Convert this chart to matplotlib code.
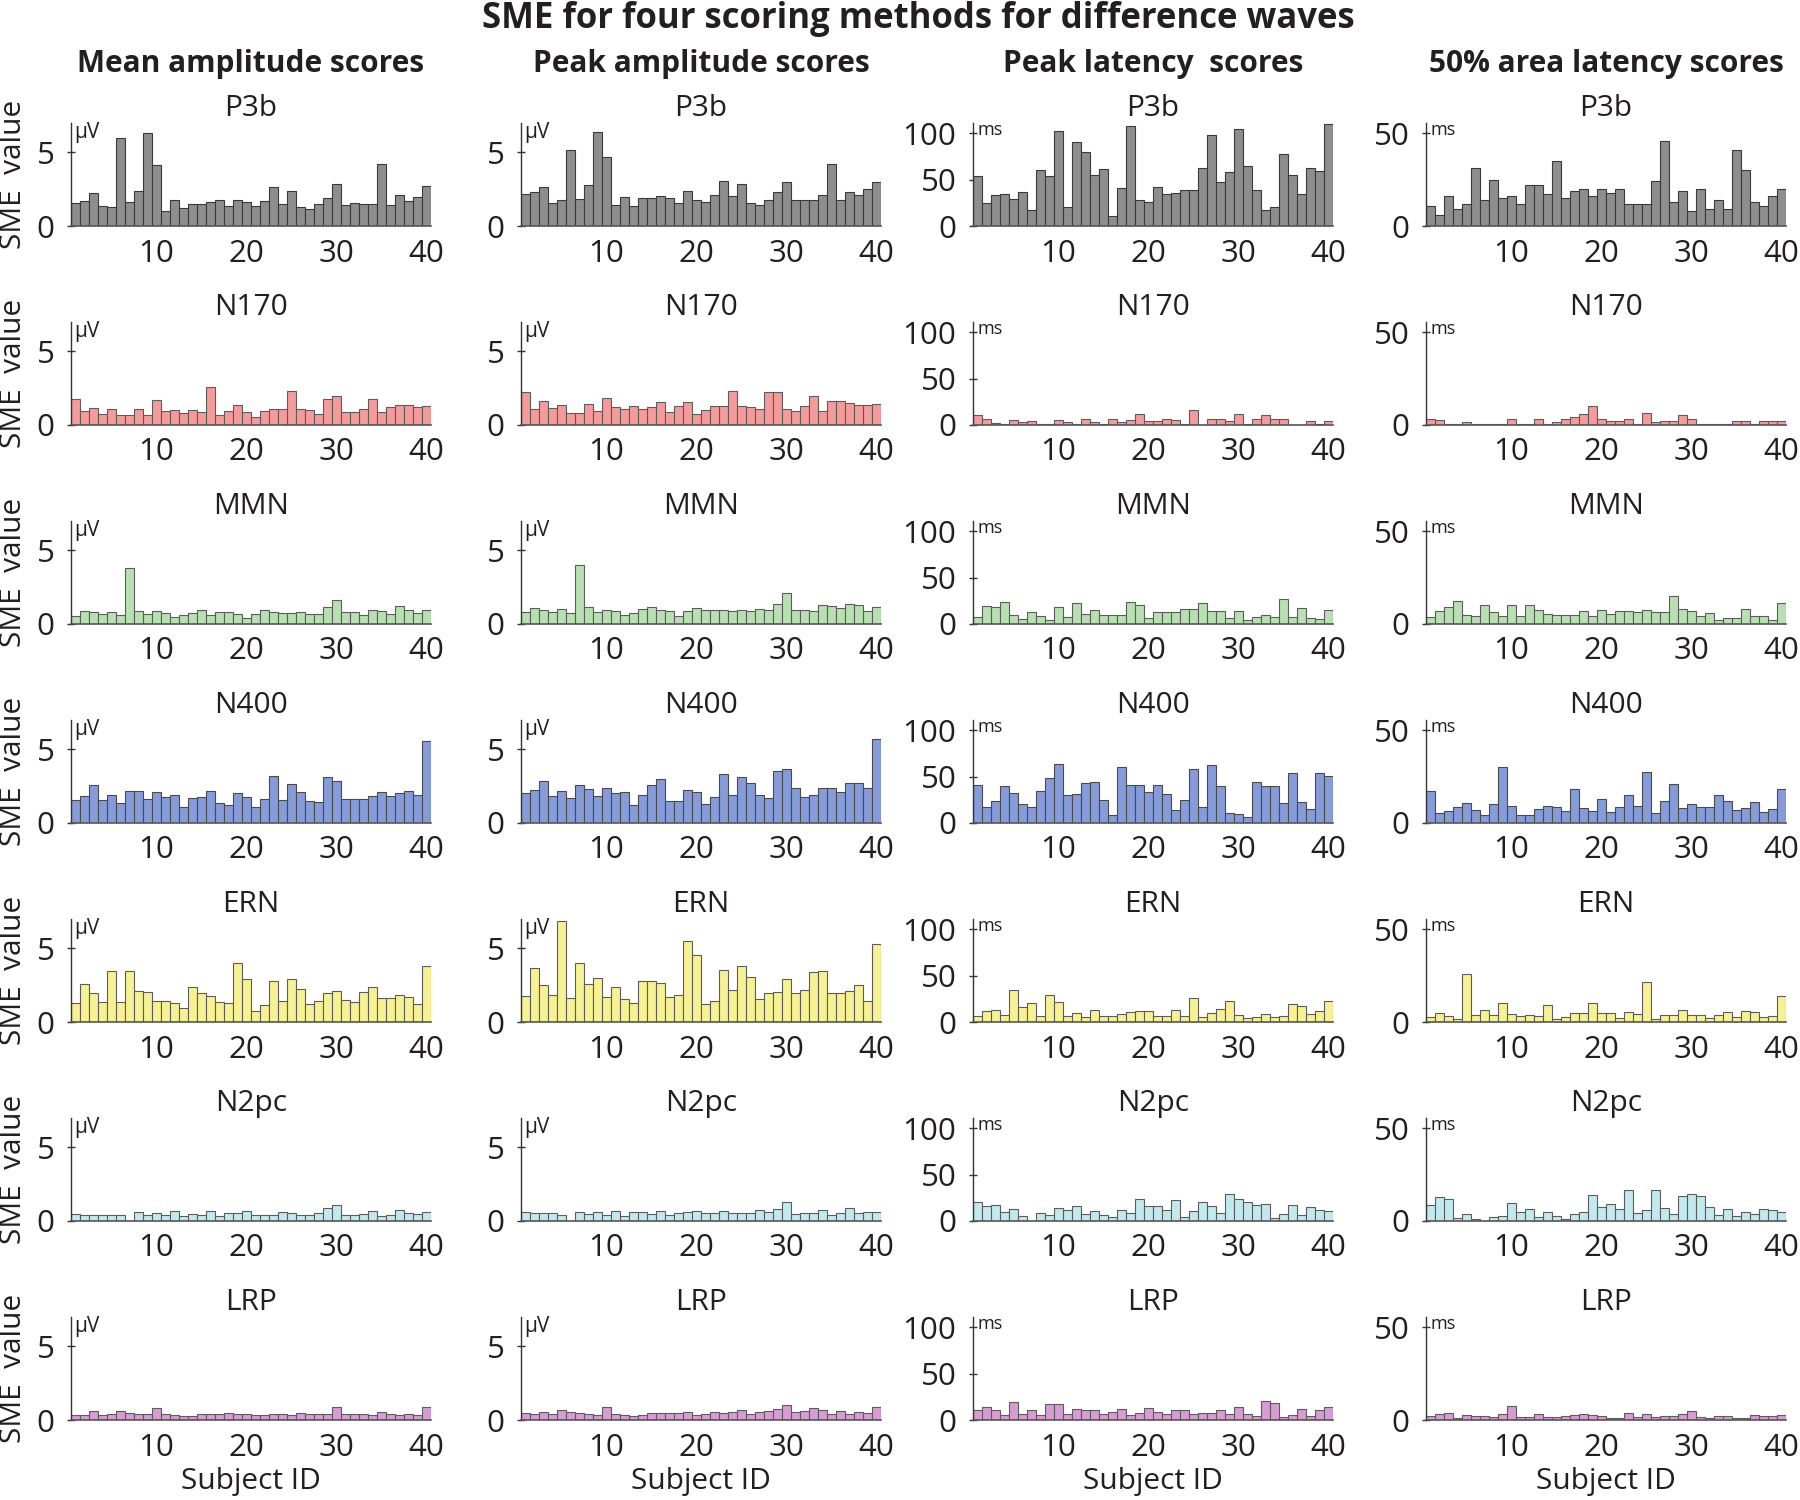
import matplotlib
matplotlib.use('Agg')
import matplotlib.pyplot as plt
import numpy as np

# ---------------- data ----------------
subjects = list(range(1, 41))
components = ['P3b', 'N170', 'MMN', 'N400', 'ERN', 'N2pc', 'LRP']
column_titles = ['Mean amplitude scores', 'Peak amplitude scores',
                 'Peak latency  scores', '50% area latency scores']

# Mean amplitude (µV)
mean_p3b = [1.54,1.73,2.26,1.34,1.27,5.97,1.64,2.37,6.29,4.17,1.01,1.75,1.20,1.50,1.50,1.61,1.75,1.36,1.80,1.66,
            1.36,1.73,2.63,1.50,2.40,1.31,1.13,1.50,1.91,2.88,1.45,1.57,1.50,1.52,4.24,1.41,2.14,1.73,1.96,2.70]
mean_n170 = [1.77,0.94,1.15,0.73,1.12,0.71,0.71,1.12,0.71,1.70,0.92,1.03,0.83,1.01,0.85,2.57,0.71,0.94,1.33,0.85,
             0.55,0.92,1.12,1.12,2.34,1.08,1.03,0.76,1.79,1.95,0.89,0.89,1.08,1.77,0.85,1.22,1.35,1.35,1.19,1.31]
mean_mmn = [0.55,0.91,0.80,0.71,0.82,0.64,3.79,0.91,0.66,0.87,0.75,0.48,0.59,0.73,0.96,0.64,0.84,0.84,0.68,0.41,
            0.71,0.98,0.82,0.75,0.78,0.80,0.68,0.70,1.16,1.62,0.80,0.82,0.62,0.98,0.87,0.71,1.21,0.94,0.75,0.98]
mean_n400 = [1.54,1.85,2.59,1.54,1.89,1.38,2.15,2.15,1.61,2.13,1.75,1.87,1.12,1.71,1.75,2.20,1.38,1.19,2.06,1.78,
             1.12,1.61,3.20,1.54,2.64,2.10,1.47,1.45,3.13,2.87,1.64,1.64,1.66,1.85,2.08,1.82,2.06,2.15,1.87,5.56]
mean_ern = [1.27,2.60,2.00,1.34,3.50,1.38,3.46,2.12,2.03,1.41,1.45,1.27,0.94,2.37,1.98,1.75,1.38,1.31,3.99,2.93,
            0.74,1.15,2.81,1.43,2.93,2.21,1.24,1.41,1.98,2.14,1.50,1.36,2.05,2.40,1.61,1.61,1.84,1.68,1.20,3.82]
mean_n2pc = [0.46,0.39,0.44,0.39,0.39,0.39,0.03,0.58,0.41,0.53,0.44,0.67,0.32,0.46,0.41,0.69,0.32,0.51,0.55,0.71,
             0.41,0.41,0.41,0.58,0.51,0.41,0.44,0.55,0.85,1.10,0.41,0.44,0.46,0.67,0.32,0.44,0.74,0.51,0.48,0.60]
mean_lrp = [0.34,0.34,0.62,0.32,0.39,0.60,0.46,0.39,0.39,0.80,0.39,0.34,0.25,0.28,0.41,0.41,0.39,0.46,0.39,0.41,
            0.32,0.34,0.39,0.41,0.37,0.46,0.44,0.39,0.41,0.85,0.39,0.39,0.44,0.34,0.51,0.39,0.34,0.41,0.34,0.85]

# Peak amplitude (µV)
peak_p3b = [2.17,2.30,2.65,1.54,1.77,5.14,1.84,2.79,6.38,4.68,1.41,2.00,1.34,1.89,1.87,2.03,1.87,1.54,2.40,1.75,
            1.61,2.10,3.04,2.07,2.86,1.57,1.41,1.77,2.30,3.00,1.75,1.77,1.77,2.12,4.24,1.80,2.33,2.14,2.49,3.02]
peak_n170 = [2.22,1.12,1.61,1.17,1.35,0.80,0.80,1.42,0.94,1.81,1.22,1.10,1.26,1.08,1.22,1.54,0.89,1.26,1.56,0.76,
             1.03,1.31,1.31,2.34,1.26,1.22,1.08,2.22,2.22,1.06,0.94,1.26,1.97,0.94,1.61,1.61,1.49,1.38,1.33,1.45]
peak_mmn = [0.80,1.12,0.98,0.80,1.05,0.75,4.04,1.16,0.82,0.98,0.87,0.59,0.75,1.05,1.16,0.98,0.91,0.55,0.87,1.12,
            0.96,0.96,0.94,0.91,0.95,0.90,1.05,0.95,1.39,2.10,0.95,0.92,0.90,1.26,1.21,1.10,1.39,1.26,0.85,1.15]
peak_n400 = [2.06,2.22,2.85,1.82,2.17,1.73,2.57,2.31,1.82,2.38,2.01,2.10,1.19,1.87,2.55,3.01,1.52,1.50,2.24,2.08,
             1.31,1.75,3.34,1.87,3.13,2.73,1.87,1.68,3.55,3.64,2.36,1.75,1.92,2.38,2.38,2.10,2.69,2.69,2.38,5.72]
peak_ern = [1.77,3.64,2.53,1.84,6.87,1.61,4.01,2.56,2.97,1.73,2.37,1.59,1.31,2.79,2.76,2.63,1.73,1.84,5.51,4.54,
            1.22,1.43,3.55,2.17,3.80,3.09,1.59,1.96,2.07,2.90,1.98,2.17,3.43,3.46,2.00,2.00,2.12,2.49,1.41,5.28]
peak_n2pc = [0.60,0.55,0.55,0.51,0.44,0.03,0.58,0.48,0.60,0.44,0.71,0.37,0.62,0.62,0.46,0.69,0.39,0.53,0.58,0.67,
             0.51,0.51,0.69,0.51,0.51,0.55,0.74,0.60,0.80,1.27,0.46,0.51,0.55,0.74,0.39,0.55,0.88,0.55,0.62,0.62]
peak_lrp = [0.48,0.41,0.55,0.44,0.69,0.55,0.48,0.41,0.37,0.90,0.41,0.32,0.30,0.37,0.46,0.46,0.50,0.46,0.55,0.37,
            0.41,0.51,0.46,0.55,0.69,0.44,0.51,0.62,0.74,1.00,0.51,0.60,0.80,0.69,0.44,0.60,0.44,0.51,0.50,0.90]

# Peak latency (ms)
peaklat_p3b = [54,25,33,34,29,37,17,60,54,102,20,90,80,55,61,11,41,108,28,26,
               42,34,36,39,39,62,98,47,58,104,65,39,17,21,78,55,34,63,59,110]
peaklat_n170 = [11,6,2,1.5,5,3,4,1,1,5,3,1,7,3,1,6,3,5,12,4,
                4,6,5,1,16,0.5,6,6,4,12,1,6,11,6,6,0.5,0.5,4,1,4]
peaklat_mmn = [8,19,18,24,10,5,13,9,4,18,8,23,11,15,10,10,10,24,21,6,
               13,13,13,16,16,23,14,14,6,14,4,8,10,8,27,8,17,6,5,15]
peaklat_n400 = [41,17,24,40,32,21,17,35,49,64,30,31,43,44,25,9,60,41,41,33,
                41,31,14,25,58,17,63,40,11,10,6,44,40,40,22,54,23,15,54,51]
peaklat_ern = [7,12,13,8,34,16,21,7,29,22,7,10,5,13,6,7,9,11,12,12,
               6,6,13,7,26,5,10,14,23,8,4,5,9,5,6,19,17,9,12,23]
peaklat_n2pc = [21,16,17,10,13,5,0,9,7,14,12,16,8,11,7,4,12,9,24,16,
                16,12,23,4,11,21,16,9,29,24,20,17,18,3,8,17,6,15,12,11]
peaklat_lrp = [11,14,11,5,19,7,11,5,17,17,7,12,11,11,7,9,12,5,8,13,
               9,7,11,11,6,8,8,11,7,14,7,4,20,18,3,5,12,4,11,14]

# 50% area latency (ms)
area_p3b = [11,6,16,9,12,31,14,25,15,16,12,22,22,17,35,15,19,20,16,20,
            18,20,12,12,12,24,46,13,19,8,20,9,14,9,41,30,13,11,16,20]
area_n170 = [3.4,2.5,0.7,0.7,1.6,0.7,0.7,0.7,0.7,3.0,0.7,0.7,3.4,0.7,1.6,3.0,4.3,6.0,10.0,3.0,
             2.0,2.0,3.0,0.7,6.3,1.6,2.0,2.0,5.2,3.4,0.7,0.7,0.7,0.3,2.3,2.0,0.7,2.2,2.0,2.0]
area_mmn = [3.6,7.2,9.2,12.2,4.9,4.5,10.4,6.3,4.1,10.4,4.3,10.0,7.4,5.4,4.9,4.9,5.0,7.2,4.1,7.7,
            5.2,7.2,6.8,6.3,7.7,6.7,6.3,15.0,7.9,7.2,4.1,5.9,2.0,3.4,3.2,8.1,4.5,4.5,2.3,11.2]
area_n400 = [17,5.2,6.3,8.5,10.6,7,4.1,10.4,30.4,9.4,4.5,4.5,7.6,9.2,8.5,6.5,18.3,8.1,6.3,13.1,
             6.1,8.6,15.3,9.4,27.3,5.6,11.9,21.2,8.1,10.1,8.6,8.5,15.3,12,7,8.1,11.3,6.1,7.4,18.3]
area_ern = [2.5,4.7,3.2,1.8,26,3.6,6.5,3.8,10.3,4.3,3.4,3.8,3.1,9,1.6,2.7,4.9,4.9,10.1,5,
            5,2,5.4,4.3,21.4,1.8,3.6,3.6,6.3,4,3.6,2.3,4,5.2,2.7,5.8,5.4,2.9,3.4,14]
area_n2pc = [8.5,12.7,11.6,1.8,4,1.3,0,2.2,2.9,9.5,5,6.7,2.2,4.7,2.5,1.3,4,5,13.8,7.8,
             8.9,6.4,16.7,4.4,6,16.7,6.9,3.8,13.6,14.7,13.6,7.8,3.3,6.7,2.5,4.9,3.6,6.5,6,4.7]
area_lrp = [2.2,3.1,3.6,1.3,2.5,2.3,2.3,1.8,3.4,7.6,1.4,1.8,3.4,1.4,1.8,2.2,2.5,3.2,2.5,2.2,
            1.3,1.1,4,1.8,3.4,1.6,2,2,3.4,5,1.6,1.1,2.3,2.2,1.1,1.3,2.7,2.2,2.2,2.5]

bar_colors = ['#8e8e8e', '#f59b9b', '#b9e0b2', '#869cda', '#f6f294', '#c1e9ee', '#d69cd3']
edge_colors = ['#3a3a3a', '#5c5c5c', '#5c5c5c', '#4a4a4a', '#5c5c5c', '#5c5c5c', '#5c5c5c']

table = [
    [mean_p3b, mean_n170, mean_mmn, mean_n400, mean_ern, mean_n2pc, mean_lrp],
    [peak_p3b, peak_n170, peak_mmn, peak_n400, peak_ern, peak_n2pc, peak_lrp],
    [peaklat_p3b, peaklat_n170, peaklat_mmn, peaklat_n400, peaklat_ern, peaklat_n2pc, peaklat_lrp],
    [area_p3b, area_n170, area_mmn, area_n400, area_ern, area_n2pc, area_lrp],
]
y_top = [7.0, 7.0, 111, 55.5]
y_ticks = [[0, 5], [0, 5], [0, 50, 100], [0, 50]]
units = ['μV', 'μV', 'ms', 'ms']

# ---------------- layout ----------------
plt.rcParams['font.family'] = ['Open Sans', 'DejaVu Sans']
W, H = 1800, 1500
fig = plt.figure(figsize=(18, 15), dpi=100)

col_left = [71, 521, 973, 1426]
ax_w = 360
base0 = 226
row_step = 199
ax_h = 103
axis_col = '#333333'
txt_col = '#231f20'

fig.text(918 / W, 1 - 19 / H, 'SME for four scoring methods for difference waves',
         ha='center', va='center', fontsize=25, fontweight='bold', color=txt_col)

for c in range(4):
    cx = (col_left[c] + ax_w / 2) / W
    fig.text(cx, 1 - 64 / H, column_titles[c], ha='center', va='center',
             fontsize=21.5, fontweight='bold', color=txt_col)
    fig.text(cx, 1 - 1482 / H, 'Subject ID', ha='center', va='center',
             fontsize=21.5, color=txt_col)

for r, comp in enumerate(components):
    base = base0 + r * row_step
    fig.text(14 / W, 1 - (base - 52) / H, 'SME  value', rotation=90,
             ha='center', va='center', fontsize=21.5, color=txt_col)
    for c in range(4):
        vals = table[c][r]
        ax = fig.add_axes([col_left[c] / W, 1 - base / H, ax_w / W, ax_h / H])
        ax.bar(subjects, vals, width=1.0, color=bar_colors[r],
               edgecolor=edge_colors[r], linewidth=0.8, zorder=2)
        ax.set_xlim(0.5, 40.5)
        ax.set_ylim(0, y_top[c])
        ax.set_xticks([10, 20, 30, 40])
        ax.set_yticks(y_ticks[c])
        for s in ['top', 'right']:
            ax.spines[s].set_visible(False)
        ax.spines['left'].set_color(axis_col)
        ax.spines['left'].set_linewidth(1.0)
        ax.spines['bottom'].set_color('#555555')
        ax.spines['bottom'].set_linewidth(1.2)
        ax.tick_params(axis='x', length=0, pad=9, labelsize=22.5, labelcolor=txt_col)
        ax.tick_params(axis='y', direction='inout', length=6, width=1.0,
                       color=axis_col, pad=9, labelsize=22.5, labelcolor=txt_col)
        ax.set_facecolor('none')
        if c < 2:
            ax.annotate(units[c], xy=(0, 1), xycoords='axes fraction',
                        xytext=(2, 1), textcoords='offset points',
                        ha='left', va='top', fontsize=15, color=txt_col)
        else:
            ax.annotate(units[c], xy=(0, y_ticks[c][-1]),
                        xycoords=('axes fraction', 'data'),
                        xytext=(3, 2), textcoords='offset points',
                        ha='left', va='center', fontsize=13, color=txt_col)
        ax.set_title(comp, fontsize=21.5, pad=3, color=txt_col)

fig.savefig('out.png', dpi=100)
